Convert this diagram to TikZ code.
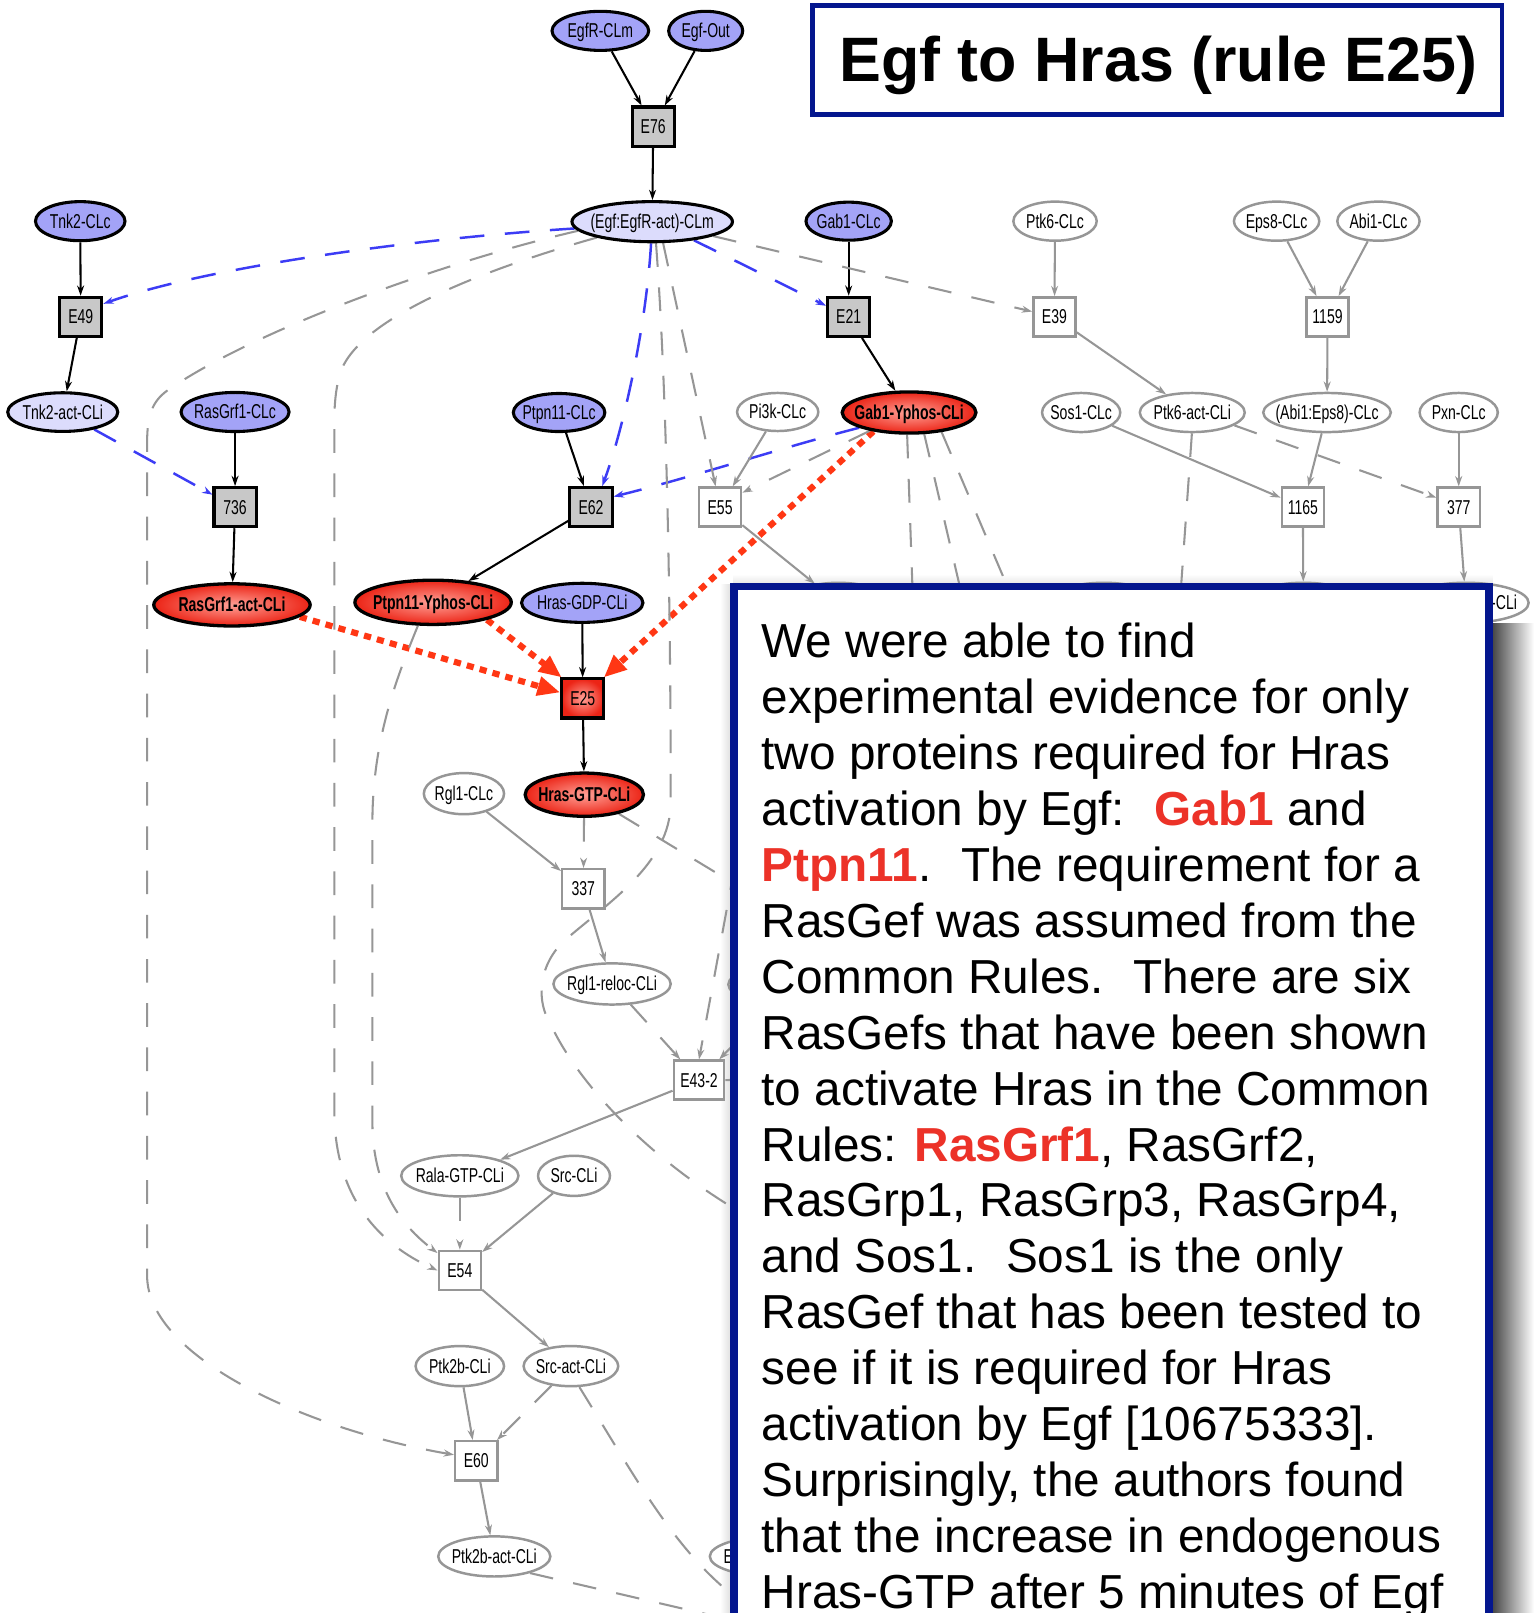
\documentclass[tikz,border=0pt]{standalone}
\usepackage{fontspec}
\setmainfont{Liberation Sans}
\newfontfamily\lblfont{Liberation Sans}[FakeStretch=0.70]
\usetikzlibrary{shapes.geometric,arrows.meta}
\pgfdeclarelayer{bg}
\pgfsetlayers{bg,main}

\definecolor{navy}{RGB}{4,22,142}
\definecolor{nblue}{RGB}{163,163,247}
\definecolor{nlight}{RGB}{220,220,252}
\definecolor{bgray}{RGB}{200,200,200}
\definecolor{egray}{RGB}{150,150,150}
\definecolor{eblue}{RGB}{60,60,245}
\definecolor{ered}{RGB}{255,55,20}
\definecolor{redout}{RGB}{236,36,22}
\definecolor{redin}{RGB}{255,160,150}
\definecolor{tred}{RGB}{236,50,40}

\tikzset{
  lbl/.style={font=\lblfont\fontsize{9.75}{11}\selectfont, text height=8.3pt, text depth=1.5pt},
  ellbase/.style 2 args={ellipse, inner xsep=-4pt, inner ysep=-2pt,
    minimum width=#1pt, minimum height=#2pt, lbl},
  pblue/.style 2 args={ellbase={#1}{#2}, draw=black, line width=1.5pt, fill=nblue},
  plight/.style 2 args={ellbase={#1}{#2}, draw=black, line width=1.5pt, fill=nlight},
  pred/.style 2 args={ellbase={#1}{#2}, draw=black, line width=1.6pt,
    inner color=redin, outer color=redout,
    font=\lblfont\bfseries\fontsize{9.75}{11}\selectfont},
  pgray/.style 2 args={ellbase={#1}{#2}, draw=egray, line width=1.2pt, fill=white},
  rbox/.style={rectangle, inner sep=0pt, minimum width=20.5pt, minimum height=19pt, lbl},
  rgray/.style={rbox, draw=black, line width=1.5pt, fill=bgray},
  rwhite/.style={rbox, draw=egray, line width=1.2pt, fill=white},
  rred/.style={rbox, draw=black, line width=1.5pt, inner color=redin, outer color=redout},
  tip/.style={-{Stealth[length=5pt,width=3.4pt]}},
  blk/.style={draw=black, line width=1pt, tip},
  gry/.style={draw=egray, line width=1pt, tip},
  gdashn/.style={draw=egray, line width=1pt, dash pattern=on 11.5pt off 10pt},
  gdash/.style={gdashn, tip},
  bdash/.style={draw=eblue, line width=1.2pt, dash pattern=on 12pt off 10pt, tip},
  rdot/.style={draw=ered, line width=3pt, dash pattern=on 3.5pt off 3pt,
    -{Triangle[length=11pt,width=9pt]}},
  txt/.style={anchor=base west, inner sep=0pt, font=\fontsize{23.2}{27.2}\selectfont},
}

\begin{document}
\begin{tikzpicture}[x=0.5pt,y=-0.5pt]
\useasboundingbox (0,0) rectangle (1491,1568);

% ---- title ----
\draw[navy, line width=2.3pt, fill=white] (790,5) rectangle (1460,111);
\node[anchor=base, inner sep=0pt, font=\bfseries\fontsize{30.5}{34}\selectfont] (title) at (1126,79) {Egf to Hras (rule E25)};

% ---- species and reactions ----
\node[pblue={47}{19}] (egfr) at (583.6,30) {EgfR-CLm};
\node[pblue={36}{19}] (egfout) at (686,30) {Egf-Out};
\node[rgray] (e76) at (635,123) {E76};
\node[plight={78}{19.5}] (egf) at (634,215.5) {(Egf:EgfR-act)-CLm};
\node[pblue={43.5}{19}] (tnk2) at (78,215) {Tnk2-CLc};
\node[pblue={41.5}{18.5}] (gab1) at (825,215) {Gab1-CLc};
\node[pgray={40.5}{19}] (ptk6) at (1025.6,215) {Ptk6-CLc};
\node[pgray={41.5}{19}] (eps8) at (1241,215) {Eps8-CLc};
\node[pgray={40}{19}] (abi1) at (1340,215) {Abi1-CLc};
\node[rgray] (e49) at (78.5,308) {E49};
\node[rgray] (e21) at (825,308) {E21};
\node[rwhite] (e39) at (1025,308) {E39};
\node[rwhite] (e1159) at (1290.5,308) {1159};
\node[plight={53.5}{18.8}] (tnk2act) at (61,400.6) {Tnk2-act-CLi};
\node[pblue={52.5}{19}] (rasgrf1) at (228.5,400.5) {RasGrf1-CLc};
\node[pblue={44.5}{18.5}] (ptpn11) at (543.5,401) {Ptpn11-CLc};
\node[pgray={39.5}{18.5}] (pi3k) at (756,400.5) {Pi3k-CLc};
\node[pred={65}{20}] (gab1y) at (883.7,401) {Gab1-Yphos-CLi};
\node[pgray={38}{19}] (sos1) at (1051,401) {Sos1-CLc};
\node[pgray={51}{19}] (ptk6act) at (1159,401) {Ptk6-act-CLi};
\node[pgray={62}{19}] (abieps) at (1290,401) {(Abi1:Eps8)-CLc};
\node[pgray={38}{19}] (pxn) at (1418,401) {Pxn-CLc};
\node[rgray] (e736) at (228.5,493) {736};
\node[rgray] (e62) at (574.5,493) {E62};
\node[rwhite] (e55) at (700,493) {E55};
\node[rwhite] (e1165) at (1266.5,493) {1165};
\node[rwhite] (e377) at (1418,493) {377};
\node[pred={76}{20.5}] (rasgrf1act) at (225.5,588) {RasGrf1-act-CLi};
\node[pred={76}{21.5}] (ptpn11y) at (421,585.5) {Ptpn11-Yphos-CLi};
\node[pblue={59}{19}] (hrasgdp) at (566,586) {Hras-GDP-CLi};
\node[rred] (e25) at (566.5,679) {E25};
\node[pred={57.5}{21}] (hrasgtp) at (568,772.5) {Hras-GTP-CLi};
\node[pgray={39}{20}] (rgl1) at (451,771.5) {Rgl1-CLc};
\node[rwhite] (e337) at (567,864) {337};
\node[pgray={57}{20}] (rgl1r) at (595,956.5) {Rgl1-reloc-CLi};
\node[rwhite, minimum width=24.5pt] (e43) at (679.5,1050) {E43-2};
\node[pgray={57}{20}] (ralagtp) at (447,1143) {Rala-GTP-CLi};
\node[pgray={35}{19.5}] (src) at (558,1143) {Src-CLi};
\node[rwhite] (e54) at (447,1235) {E54};
\node[pgray={43}{19.5}] (ptk2b) at (447,1328) {Ptk2b-CLi};
\node[pgray={46}{19.5}] (srcact) at (555,1328) {Src-act-CLi};
\node[rwhite] (e60) at (463,1420) {E60};
\node[pgray={54.5}{19.5}] (ptk2bact) at (480.5,1513) {Ptk2b-act-CLi};

% species lying under the note
\node[pgray={50}{19.5}] (hid1) at (815,586) {};
\node[pgray={55}{19.5}] (hid2) at (1073,586) {};
\node[pgray={55}{19.5}] (hid3) at (1267,586) {};
\node[pgray={61}{19.5}] (hid4) at (1425,586) {};
\node[lbl, anchor=east, inner sep=0pt] (hid4t) at (1475,586) {-CLi};
\node[pgray={62}{19.5}] (hidL) at (770,957) {};
\node[pgray={62}{19.5}] (hidE) at (752,1513) {};
\node[lbl, anchor=west, inner sep=0pt] (hidEt) at (703,1513) {E};

% free ends of edges running under the note
\coordinate (c1) at (740,1190);
\coordinate (g1) at (888,600);
\coordinate (g2) at (940,600);
\coordinate (g3) at (992,600);
\coordinate (g4) at (1146,600);
\coordinate (g5) at (745,878);
\coordinate (g6) at (722,800);
\coordinate (g7) at (725,1560);
\coordinate (g8) at (725,1578);
\coordinate (g9) at (735,1049);

\begin{pgfonlayer}{bg}
\fill[white] (0,0) rectangle (1491,1568);
% soft halo round the note
\shade[left color=white, right color=black!12] (700,568) rectangle (710,1568);
\shade[top color=white, bottom color=black!9] (713,558) rectangle (1451,567);

% required reactants / products
\draw[blk] (egfr) -- (e76);
\draw[blk] (egfout) -- (e76);
\draw[blk] (e76) -- (egf);
\draw[blk] (tnk2) -- (e49);
\draw[blk] (e49) -- (tnk2act);
\draw[blk] (gab1) -- (e21);
\draw[blk] (e21) -- (gab1y);
\draw[blk] (rasgrf1) -- (e736);
\draw[blk] (e736) -- (rasgrf1act);
\draw[blk] (ptpn11) -- (e62);
\draw[blk] (e62) -- (ptpn11y);
\draw[blk] (hrasgdp) -- (e25);
\draw[blk] (e25) -- (hrasgtp);

% activating influences
\draw[bdash] (egf.185) .. controls (400,232) and (200,260) .. (e49.30);
\draw[bdash] (tnk2act) -- (e736);
\draw[bdash] (egf.-93) .. controls (628,320) and (605,420) .. (e62.62);
\draw[bdash] (egf.-24.7) -- (e21.154);
\draw[bdash] (gab1y.197) .. controls (760,435) and (680,462) .. (e62.25);

% rule E25 inputs
\draw[rdot] (rasgrf1act.-10.5) -- (e25.165);
\draw[rdot] (ptpn11y.-18.6) -- (e25.135);
\draw[rdot] (gab1y.-152) -- (e25.45);

% other reactions
\draw[gry] (ptk6) -- (e39);
\draw[gry] (e39) -- (ptk6act);
\draw[gry] (eps8) -- (e1159);
\draw[gry] (abi1) -- (e1159);
\draw[gry] (e1159) -- (abieps);
\draw[gry] (pi3k) -- (e55);
\draw[gry] (sos1) -- (e1165);
\draw[gry] (abieps) -- (e1165);
\draw[gry] (pxn) -- (e377);
\draw[gry] (e55) -- (hid1);
\draw[gry] (e1165) -- (hid3);
\draw[gry] (e377) -- (hid4);
\draw[gry] (rgl1) -- (e337);
\draw[gry] (e337) -- (rgl1r);
\draw[gry] (e43) -- (ralagtp);
\draw[gry] (hidL) -- (e43);
\draw[draw=egray, line width=1pt] (e43.east) -- (g9);
\draw[gry] (src) -- (e54);
\draw[gry] (e54) -- (srcact);
\draw[gry] (ptk2b) -- (e60);
\draw[gry] (e60) -- (ptk2bact);

% other influences
\draw[gdash] (egf) -- (e39);
\draw[gdash] (egf.-63) -- (e55);
\draw[gdashn] (egf.-80) .. controls (650,400) and (652,650) .. (652,780)
  .. controls (652,840) and (590,878) .. (548,915)
  .. controls (522,940) and (522,975) .. (535,995)
  .. controls (560,1050) and (630,1130) .. (c1);
\draw[gdash] (egf.187) .. controls (430,255) and (250,320) .. (165,378)
  .. controls (150,388) and (143,400) .. (143,430) -- (143,1240)
  .. controls (143,1320) and (300,1390) .. (e60.165);
\draw[gdash] (egf.196) .. controls (470,262) and (345,310) .. (330,365)
  .. controls (326,380) and (325,395) .. (325,410) -- (325,1080)
  .. controls (325,1165) and (370,1210) .. (e54.west);
\draw[gdash] (ptpn11y.-123) .. controls (385,660) and (362,720) .. (362,800) -- (362,1090)
  .. controls (362,1160) and (395,1195) .. (e54.142);
\draw[gdash] (gab1y.205) -- (e55.33);
\draw[gdashn] (gab1y.-95) -- (g1);
\draw[gdashn] (gab1y.-55) -- (g2);
\draw[gdashn] (gab1y.-31) -- (g3);
\draw[gdashn] (ptk6act.-91) -- (g4);
\draw[gdash] (ptk6act.-17) -- (e377.157);
\draw[gdash] (hrasgtp) -- (e337);
\draw[gdashn] (hrasgtp.-29) -- (g5);
\draw[gdash] (g6) -- (e43.north);
\draw[gdash] (rgl1r) -- (e43);
\draw[gdash] (ralagtp) -- (e54);
\draw[gdash] (srcact) -- (e60);
\draw[gdashn] (srcact.-68) .. controls (620,1440) and (660,1515) .. (g7);
\draw[gdashn] (ptk2bact.-25) -- (g8);
\end{pgfonlayer}

% ---- note with drop shadow ----
\shade[left color=black!72, right color=white] (1451,606) rectangle (1491,1568);
\draw[navy, line width=3.5pt, fill=white] (713.5,570.5) rectangle (1447.5,1610);

\node[txt] (t1) at (740,639) {We were able to find};
\node[txt] (t2) at (740,693.4) {experimental evidence for only};
\node[txt] (t3) at (740,747.8) {two proteins required for Hras};
\node[txt] (t4) at (740,802.2) {activation by Egf:\hspace{0.62em}\textcolor{tred}{\bfseries Gab1} and};
\node[txt] (t5) at (740,856.6) {\textcolor{tred}{\bfseries Ptpn11}.\hspace{0.62em}The requirement for a};
\node[txt] (t6) at (740,911) {RasGef was assumed from the};
\node[txt] (t7) at (740,965.4) {Common Rules.\hspace{0.62em}There are six};
\node[txt] (t8) at (740,1019.8) {RasGefs that have been shown};
\node[txt] (t9) at (740,1074.2) {to activate Hras in the Common};
\node[txt] (t10) at (740,1128.6) {Rules: \textcolor{tred}{\bfseries RasGrf1}, RasGrf2,};
\node[txt] (t11) at (740,1183) {RasGrp1, RasGrp3, RasGrp4,};
\node[txt] (t12) at (740,1237.4) {and Sos1.\hspace{0.62em}Sos1 is the only};
\node[txt] (t13) at (740,1291.8) {RasGef that has been tested to};
\node[txt] (t14) at (740,1346.2) {see if it is required for Hras};
\node[txt] (t15) at (740,1400.6) {activation by Egf [10675333].};
\node[txt] (t16) at (740,1455) {Surprisingly, the authors found};
\node[txt] (t17) at (740,1509.4) {that the increase in endogenous};
\node[txt] (t18) at (740,1563.8) {Hras-GTP after 5 minutes of Egf};
\end{tikzpicture}
\end{document}
